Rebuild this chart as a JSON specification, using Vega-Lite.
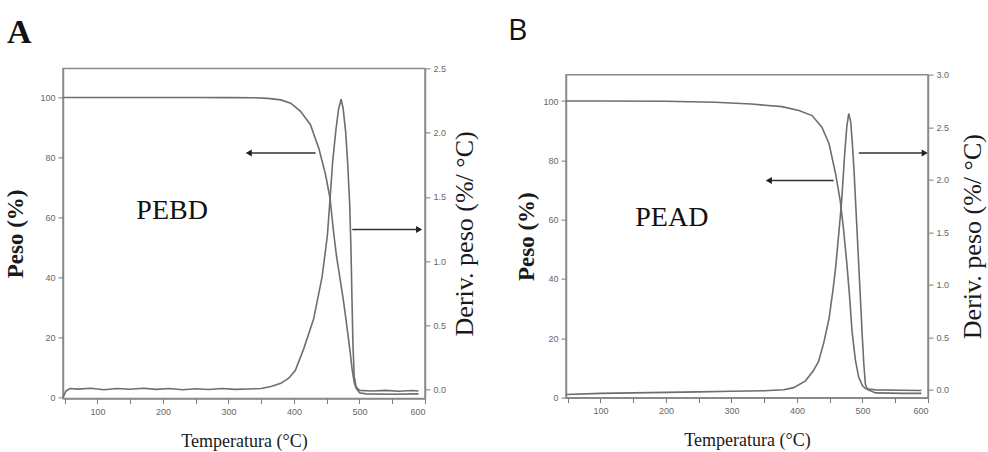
{
  "$schema": "https://vega.github.io/schema/vega-lite/v6.json",
  "background": "white",
  "padding": {"left": 4, "top": 14, "right": 0, "bottom": 0},
  "spacing": 28,
  "center": true,
  "config": {
    "view": {"stroke": "#8a8a8a", "strokeWidth": 1.5},
    "axis": {
      "grid": false,
      "domainColor": "#8a8a8a",
      "domainWidth": 1.5,
      "tickColor": "#7a7a7a",
      "tickSize": 5,
      "labelColor": "#666666",
      "labelFont": "Liberation Sans",
      "labelFontSize": 9,
      "labelPadding": 3,
      "titleColor": "#1a1a1a",
      "titleFont": "Liberation Serif",
      "titleFontWeight": "normal"
    },
    "title": {"anchor": "start", "frame": "bounds"}
  },
  "datasets": {
    "wA": [
      {"t": 47.5, "w": 100}, {"t": 100, "w": 100}, {"t": 150, "w": 100}, {"t": 200, "w": 100},
      {"t": 250, "w": 100}, {"t": 300, "w": 99.95}, {"t": 340, "w": 99.9}, {"t": 360, "w": 99.7},
      {"t": 380, "w": 99.2}, {"t": 395, "w": 98.1}, {"t": 410, "w": 95.4}, {"t": 425, "w": 91},
      {"t": 438, "w": 83}, {"t": 448, "w": 74.5}, {"t": 455, "w": 66.5}, {"t": 460, "w": 56},
      {"t": 465, "w": 47}, {"t": 470, "w": 40}, {"t": 475, "w": 33}, {"t": 480, "w": 25},
      {"t": 485, "w": 16.5}, {"t": 489, "w": 9}, {"t": 492, "w": 5}, {"t": 495, "w": 3},
      {"t": 500, "w": 1.6}, {"t": 510, "w": 1.2}, {"t": 550, "w": 1.1}, {"t": 590, "w": 1.2}
    ],
    "dA": [
      {"t": 47.5, "d": -0.06}, {"t": 52, "d": -0.01}, {"t": 58, "d": 0.01}, {"t": 70, "d": 0.005},
      {"t": 90, "d": 0.012}, {"t": 110, "d": 0.0}, {"t": 130, "d": 0.01}, {"t": 150, "d": 0.004},
      {"t": 170, "d": 0.012}, {"t": 190, "d": 0.003}, {"t": 210, "d": 0.01}, {"t": 230, "d": 0.0},
      {"t": 250, "d": 0.008}, {"t": 270, "d": 0.002}, {"t": 290, "d": 0.01}, {"t": 310, "d": 0.003},
      {"t": 330, "d": 0.006}, {"t": 350, "d": 0.01}, {"t": 365, "d": 0.025}, {"t": 380, "d": 0.05},
      {"t": 392, "d": 0.09}, {"t": 402, "d": 0.15}, {"t": 415, "d": 0.32}, {"t": 430, "d": 0.55},
      {"t": 443, "d": 0.88}, {"t": 451, "d": 1.2}, {"t": 455, "d": 1.48}, {"t": 459, "d": 1.77},
      {"t": 464, "d": 2.02}, {"t": 468, "d": 2.18}, {"t": 472, "d": 2.26}, {"t": 475, "d": 2.19},
      {"t": 479, "d": 2.0}, {"t": 482, "d": 1.76}, {"t": 485, "d": 1.45}, {"t": 487, "d": 1.1},
      {"t": 488.5, "d": 0.72}, {"t": 490, "d": 0.36}, {"t": 492, "d": 0.1}, {"t": 495, "d": 0.02},
      {"t": 500, "d": -0.005}, {"t": 520, "d": -0.01}, {"t": 540, "d": -0.005}, {"t": 560, "d": -0.012},
      {"t": 580, "d": -0.006}, {"t": 590, "d": -0.01}
    ],
    "aA": [
      {"t": 433, "t2": 331, "w": 81.5, "dir": "left"},
      {"t": 489, "t2": 591, "w": 56, "dir": "right"}
    ],
    "lA": [{"t": 214, "w": 62, "label": "PEBD"}],
    "wB": [
      {"t": 47.5, "w": 100}, {"t": 100, "w": 100}, {"t": 200, "w": 99.9}, {"t": 275, "w": 99.6},
      {"t": 330, "w": 99.0}, {"t": 377, "w": 98.1}, {"t": 403, "w": 96.8}, {"t": 423, "w": 95.1},
      {"t": 438, "w": 91.2}, {"t": 449, "w": 85.6}, {"t": 459, "w": 75.4}, {"t": 466, "w": 66.4},
      {"t": 471, "w": 57}, {"t": 476, "w": 45.5}, {"t": 480, "w": 35}, {"t": 484, "w": 22.5},
      {"t": 489, "w": 13}, {"t": 494, "w": 7}, {"t": 500, "w": 4}, {"t": 505, "w": 3},
      {"t": 520, "w": 2.6}, {"t": 560, "w": 2.5}, {"t": 590, "w": 2.4}
    ],
    "dB": [
      {"t": 47.5, "d": -0.045}, {"t": 100, "d": -0.035}, {"t": 150, "d": -0.03}, {"t": 200, "d": -0.025},
      {"t": 250, "d": -0.02}, {"t": 300, "d": -0.015}, {"t": 350, "d": -0.01}, {"t": 380, "d": 0.0},
      {"t": 395, "d": 0.02}, {"t": 413, "d": 0.085}, {"t": 425, "d": 0.18}, {"t": 433, "d": 0.27},
      {"t": 441, "d": 0.45}, {"t": 449, "d": 0.68}, {"t": 455, "d": 0.95}, {"t": 459, "d": 1.16},
      {"t": 464, "d": 1.5}, {"t": 468, "d": 1.78}, {"t": 473, "d": 2.26}, {"t": 476, "d": 2.5},
      {"t": 479, "d": 2.63}, {"t": 482, "d": 2.55}, {"t": 484.5, "d": 2.35}, {"t": 487, "d": 2.1},
      {"t": 491, "d": 1.6}, {"t": 494.5, "d": 1.16}, {"t": 497, "d": 0.85}, {"t": 499.5, "d": 0.53},
      {"t": 502, "d": 0.25}, {"t": 504.5, "d": 0.05}, {"t": 508, "d": 0.0}, {"t": 520, "d": -0.03},
      {"t": 560, "d": -0.035}, {"t": 590, "d": -0.035}
    ],
    "aB": [
      {"t": 456, "t2": 357, "w": 73.2, "dir": "left"},
      {"t": 494.4, "t2": 595, "w": 82.5, "dir": "right"}
    ],
    "lB": [{"t": 209, "w": 60.5, "label": "PEAD"}]
  },
  "hconcat": [
    {
      "title": {"text": "A", "font": "Liberation Serif", "fontSize": 34, "fontWeight": "bold", "color": "#111111", "offset": 14, "dx": 2},
      "width": 362,
      "height": 330,
      "layer": [
        {
          "layer": [
            {
              "data": {"name": "wA"},
              "mark": {"type": "line", "color": "#6e6e6e", "strokeWidth": 1.6},
              "encoding": {
                "x": {"field": "t", "type": "quantitative", "scale": {"domain": [47.5, 600], "nice": false, "zero": false},
                  "axis": {"orient": "bottom", "title": "Temperatura (°C)", "values": [100, 200, 300, 400, 500, 600], "format": "d",
                    "titleFontSize": 18, "titlePadding": 16, "labelPadding": 4}},
                "y": {"field": "w", "type": "quantitative", "scale": {"domain": [-0.3, 109.7], "nice": false, "zero": false},
                  "axis": {"title": "Peso (%)", "values": [0, 20, 40, 60, 80, 100], "titleFontSize": 23, "titleFontWeight": "bold", "titlePadding": 12}}
              }
            },
            {
              "data": {"name": "aA"},
              "mark": {"type": "rule", "color": "#333333", "strokeWidth": 1.5},
              "encoding": {
                "x": {"field": "t", "type": "quantitative"},
                "x2": {"field": "t2"},
                "y": {"field": "w", "type": "quantitative"}
              }
            },
            {
              "data": {"name": "aA"},
              "transform": [{"filter": "datum.dir === 'left'"}],
              "mark": {"type": "point", "shape": "triangle-left", "filled": true, "color": "#222222", "size": 50, "opacity": 1},
              "encoding": {
                "x": {"field": "t2", "type": "quantitative"},
                "y": {"field": "w", "type": "quantitative"}
              }
            },
            {
              "data": {"name": "aA"},
              "transform": [{"filter": "datum.dir === 'right'"}],
              "mark": {"type": "point", "shape": "triangle-right", "filled": true, "color": "#222222", "size": 50, "opacity": 1},
              "encoding": {
                "x": {"field": "t2", "type": "quantitative"},
                "y": {"field": "w", "type": "quantitative"}
              }
            },
            {
              "data": {"name": "lA"},
              "mark": {"type": "text", "font": "Liberation Serif", "fontSize": 28, "color": "#111111"},
              "encoding": {
                "x": {"field": "t", "type": "quantitative"},
                "y": {"field": "w", "type": "quantitative"},
                "text": {"field": "label"}
              }
            }
          ]
        },
        {
          "data": {"name": "dA"},
          "mark": {"type": "line", "color": "#6e6e6e", "strokeWidth": 1.6},
          "encoding": {
            "x": {"field": "t", "type": "quantitative",
              "axis": {"orient": "bottom", "values": [50, 150, 250, 350, 450, 550], "labels": false, "domain": false,
                "title": ".", "titleOpacity": 0, "titleFontSize": 18, "titlePadding": 34, "titleX": 400}},
            "y": {"field": "d", "type": "quantitative", "scale": {"domain": [-0.067, 2.5], "nice": false, "zero": false},
              "axis": {"orient": "right", "title": "Deriv. peso (%/ °C)", "values": [0, 0.5, 1, 1.5, 2, 2.5], "format": ".1f",
                "titleAngle": 270, "titleBaseline": "top", "titleFontSize": 26, "titlePadding": 6}}
          }
        }
      ],
      "resolve": {"scale": {"y": "independent"}, "axis": {"x": "independent"}}
    },
    {
      "title": {"text": "B", "font": "Open Sans", "fontSize": 30, "fontWeight": "normal", "color": "#111111", "offset": 25, "dx": -8},
      "width": 362,
      "height": 323,
      "layer": [
        {
          "layer": [
            {
              "data": {"name": "wB"},
              "mark": {"type": "line", "color": "#6e6e6e", "strokeWidth": 1.6},
              "encoding": {
                "x": {"field": "t", "type": "quantitative", "scale": {"domain": [47.5, 600], "nice": false, "zero": false},
                  "axis": {"orient": "bottom", "title": "Temperatura (°C)", "values": [100, 200, 300, 400, 500, 600], "format": "d",
                    "titleFontSize": 18, "titlePadding": 16, "labelPadding": 4}},
                "y": {"field": "w", "type": "quantitative", "scale": {"domain": [0, 108.9], "nice": false, "zero": false},
                  "axis": {"title": "Peso (%)", "values": [0, 20, 40, 60, 80, 100], "titleFontSize": 23, "titleFontWeight": "bold", "titlePadding": 4}}
              }
            },
            {
              "data": {"name": "aB"},
              "mark": {"type": "rule", "color": "#333333", "strokeWidth": 1.5},
              "encoding": {
                "x": {"field": "t", "type": "quantitative"},
                "x2": {"field": "t2"},
                "y": {"field": "w", "type": "quantitative"}
              }
            },
            {
              "data": {"name": "aB"},
              "transform": [{"filter": "datum.dir === 'left'"}],
              "mark": {"type": "point", "shape": "triangle-left", "filled": true, "color": "#222222", "size": 50, "opacity": 1},
              "encoding": {
                "x": {"field": "t2", "type": "quantitative"},
                "y": {"field": "w", "type": "quantitative"}
              }
            },
            {
              "data": {"name": "aB"},
              "transform": [{"filter": "datum.dir === 'right'"}],
              "mark": {"type": "point", "shape": "triangle-right", "filled": true, "color": "#222222", "size": 50, "opacity": 1},
              "encoding": {
                "x": {"field": "t2", "type": "quantitative"},
                "y": {"field": "w", "type": "quantitative"}
              }
            },
            {
              "data": {"name": "lB"},
              "mark": {"type": "text", "font": "Liberation Serif", "fontSize": 28, "color": "#111111"},
              "encoding": {
                "x": {"field": "t", "type": "quantitative"},
                "y": {"field": "w", "type": "quantitative"},
                "text": {"field": "label"}
              }
            }
          ]
        },
        {
          "data": {"name": "dB"},
          "mark": {"type": "line", "color": "#6e6e6e", "strokeWidth": 1.6},
          "encoding": {
            "x": {"field": "t", "type": "quantitative",
              "axis": {"orient": "bottom", "values": [50, 150, 250, 350, 450, 550], "labels": false, "domain": false, "title": null}},
            "y": {"field": "d", "type": "quantitative", "scale": {"domain": [-0.075, 3.0], "nice": false, "zero": false},
              "axis": {"orient": "right", "title": "Deriv. peso (%/ °C)", "values": [0, 0.5, 1, 1.5, 2, 2.5, 3], "format": ".1f",
                "titleAngle": 270, "titleBaseline": "top", "titleFontSize": 26, "titlePadding": 11}}
          }
        }
      ],
      "resolve": {"scale": {"y": "independent"}, "axis": {"x": "independent"}}
    }
  ]
}
